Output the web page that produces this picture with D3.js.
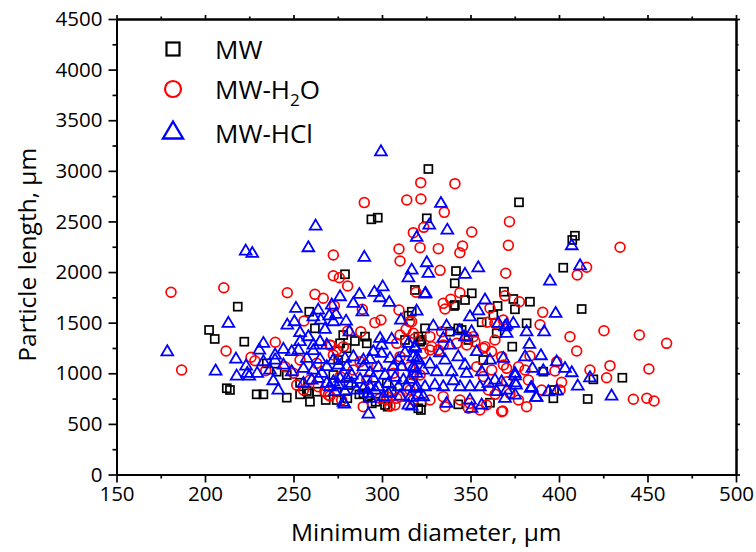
<!DOCTYPE html>
<html>
<head>
<meta charset="utf-8">
<script src="https://cdn.jsdelivr.net/npm/d3@7"></script>
<style>
  html, body { margin: 0; padding: 0; background: #fff; }
  svg { display: block; }
  text { font-family: "Open Sans", "Liberation Sans", sans-serif; fill: #000; }
</style>
</head>
<body>
<svg id="chart" width="756" height="552"></svg>
<script>
// Particle length vs minimum diameter for three treatments
const seriesNames = ["MW", "MW-H2O", "MW-HCl"];
const xTicks = [150, 200, 250, 300, 350, 400, 450, 500];
const yTicks = [0, 500, 1000, 1500, 2000, 2500, 3000, 3500, 4000, 4500];

const mwPoints = [
  [202.3,1428],[205.5,1339],[218.5,1658],[222.2,1312],[212.3,852],[214.1,835],[229.2,792],[233,792],
  [246.2,759],[253.7,792],[258.8,802],[259.3,719],[268.2,736],[279.1,1978],[294,2521],[297.6,2537],
  [318.6,1823],[314.9,1569],[316.8,1608],[326.2,3018],[325.3,2531],[258.9,1608],[341.8,2010],[341.1,1889],
  [350.7,1790],[368.9,1806],[377.4,2689],[409,2359],[407.5,2317],[402.4,2043],[346.9,1724],[340.7,1665],
  [374.2,1734],[375.1,1632],[383.6,1707],[412.8,1635],[365.3,1665],[362.9,1576],[381.7,1494],[356.3,1504],
  [324.3,1444],[343.1,1444],[373.6,1263],[435.8,956],[419.4,940],[416.2,746],[396.8,753],[391.1,1016],
  [397.2,835],[361,709],[343.1,693],[322,637],[357.2,1131],[257.5,825],[274.4,736],[280.4,753],
  [287.2,792],[291.9,769],[296.4,719],[303.2,670],[322.4,719],[278.1,1378],[284.7,1319],[291.4,1296],
  [322.4,1329],[262.1,1444],[320.5,1362],[341.2,1675],[320.5,654],[348.8,1329],[338.4,1411],[276.3,1296],
  [290.4,1362],[274.4,819],[294.2,703],[301.7,687],[272.5,983],[281,884],[289.5,802],[302.7,901],
  [305.5,818],[317.7,983],[246.2,983],[253.7,907],[263.1,818],[234.9,1098],[240.5,1016],[280,1247],
  [275.3,1131],[345,1428],[321.5,1312],[364.8,1395],[313,1329]
];

const h2oPoints = [
  [180.8,1800],[210.6,1845],[246.5,1796],[272.5,2168],[272.5,1964],[275.9,1944],[280.6,1862],[262.1,1780],
  [266.8,1741],[273.1,1665],[288.9,1632],[290,2686],[309.6,2228],[310.2,2109],[317.7,2389],[321.5,2241],
  [314,2712],[321.9,2883],[322,2722],[319.2,1800],[309.6,1625],[296,1500],[299.4,1526],[255.9,1516],
  [341.2,2873],[335.2,2590],[323.6,2442],[350.7,2396],[331.8,2231],[345.5,2257],[344,2191],[372,2498],
  [371.4,2264],[332.8,2017],[369.9,1988],[344,1796],[338.8,1731],[434.5,2245],[415.6,2047],[410.3,1971],
  [335.6,1635],[369.5,1766],[377.6,1707],[390.8,1602],[425.4,1420],[359.5,1504],[368.5,1526],[389.3,1480],
  [406.2,1361],[410,1220],[445.4,1378],[460.8,1296],[428.8,1075],[417.5,1032],[426.9,956],[450.8,1042],
  [442,743],[449.6,753],[453.7,726],[401.5,911],[381.7,670],[368.2,627],[398.7,1114],[397.7,1023],
  [361,1642],[186.8,1032],[211.9,1220],[226,1158],[228.2,1124],[234.3,1026],[239.7,1306],[289.4,670],
  [304.5,677],[307.3,687],[288,1411],[280.6,1418],[313.6,1434],[315.5,1510],[270.6,1280],[274.4,1230],
  [278.2,1263],[310.2,1378],[308.3,1296],[287.6,1115],[267.8,819],[270.6,776],[308.3,753],[302.7,769],
  [298.9,753],[277.2,736],[317.7,736],[334.6,1691],[363.8,1494],[316.7,1510],[317.7,1395],[327.1,1362],
  [333.7,1411],[334.6,1280],[331.8,1230],[347.8,1362],[352.5,1313],[358.2,1263],[361.9,1214],[363.8,1329],
  [367.6,1164],[370.4,1049],[370.4,917],[323.3,1197],[327.1,1230],[317.7,983],[321.5,983],[327.1,736],
  [334.6,769],[344.1,736],[348.8,654],[355.3,637],[359.1,687],[367.6,621],[360.1,835],[368.6,1082],
  [377.1,1065],[380.8,1032],[382.7,934],[383.6,1171],[390.2,835],[400.6,835],[377.1,736],[372.3,802],
  [318.7,1345],[328.1,1263],[357.3,1247],[351.6,1362],[347.9,1280],[342.2,1296],[357.3,967],[362,1032],
  [353.5,1065],[349.7,703],[335.6,670],[363.9,792],[251.8,884],[255.6,835],[264,868],[269.7,786],
  [272.5,1181],[271.2,1273],[302.7,736],[310.2,769],[315.8,835],[245.2,1065],[249.9,1000],[253.7,1131],
  [259.3,934],[263.1,1098],[276.3,967],[283.8,1032],[291.4,934],[297,1065],[306.4,1000],[310.2,1164],
  [315.8,1065]
];

const hclPoints = [
  [299.4,3189],[262.5,2455],[223,2208],[226.7,2185],[258.4,2241],[290,2146],[319.6,2343],[316.8,2020],
  [314.9,1944],[325.3,2093],[326.2,1988],[300.4,1855],[295.7,1800],[298.9,1747],[304.1,1701],[287.2,1780],
  [283.8,1691],[288.9,1608],[276.3,1757],[271.6,1675],[274,1583],[264,1625],[270.2,1569],[261.2,1559],
  [265.4,1526],[250.5,1510],[279.7,1516],[272.5,1510],[310.7,1526],[319.6,1615],[324.3,1783],[333.3,2679],
  [326.7,2465],[336.9,2415],[354.4,2043],[346.9,1978],[324.6,1790],[358.2,1725],[407.2,2261],[411.9,2063],
  [394.9,1912],[398.1,1592],[354.4,1618],[349.7,1559],[365.7,1494],[374.2,1494],[370.4,1477],[329,1467],
  [336.5,1467],[391.6,1411],[381.7,1411],[369.5,1460],[383.3,1286],[380.8,1164],[389.8,1174],[398.7,1114],
  [403.4,1049],[407.2,1006],[417.5,956],[410.6,874],[429.7,776],[385,1049],[391.1,1026],[384,852],
  [394,818],[398.7,828],[387,763],[178.7,1213],[206,1023],[213.2,1494],[217.5,1141],[217.9,973],
  [223.9,1000],[225,973],[229.5,1000],[223.2,1072],[251.4,1642],[246.5,1477],[253.7,1402],[258.4,1362],
  [267.8,1434],[261.2,1280],[265,1313],[268.8,1280],[233,1296],[230.7,1230],[239.6,1181],[244.3,1237],
  [249,1214],[253.7,1313],[252.8,1230],[257.5,1148],[261.2,1224],[265,1138],[268.8,1066],[233,1115],
  [239.6,1131],[244.3,1082],[249,1016],[255.6,1049],[261.2,1033],[266,1000],[238.6,927],[241.4,835],
  [236.7,1033],[255.6,901],[260.3,934],[264,950],[268.8,901],[281.6,1411],[298.9,1345],[305.5,1336],
  [299.8,1280],[314.9,1296],[318.7,1247],[317.7,1164],[313,1204],[309.3,1131],[304.5,1148],[299.8,1197],
  [295.1,1214],[293.2,1138],[289.5,1131],[283.8,1164],[279.1,1148],[272.5,1131],[275.4,1082],[280.1,1066],
  [289.5,1066],[298,1059],[306.4,1066],[311.1,1066],[317.7,1066],[320.6,1131],[272.5,917],[276.3,950],
  [280.1,950],[282.9,983],[287.6,940],[293.2,1006],[295.1,950],[301.7,983],[307.4,960],[312.1,934],
  [315.8,940],[319.6,1000],[270.6,868],[275.4,884],[282.9,901],[289.5,851],[293.2,868],[298,868],
  [303.6,901],[309.3,868],[314,868],[318.7,851],[315.8,763],[310.2,776],[303.6,802],[296.1,835],
  [292.3,802],[285.7,835],[279.1,819],[273.5,819],[278.2,713],[293.2,753],[300.8,769],[314.9,687],
  [292.3,598],[278.7,697],[370.4,1395],[343.7,1421],[334.6,1345],[338.4,1280],[346.9,1362],[350.6,1411],
  [318.6,1263],[319.6,1148],[327.1,1092],[332.7,1204],[335.6,1131],[343.1,1164],[346.9,1082],[353.5,1214],
  [361,1131],[368.5,1148],[318.6,1049],[323.3,1033],[330.9,1016],[339.3,1016],[347.8,1000],[356.3,1016],
  [363.8,934],[367.6,917],[319.6,868],[324.3,868],[329.9,884],[334.6,868],[340.3,927],[344.1,868],
  [349.7,868],[355.3,868],[360.1,901],[364.8,819],[370.4,835],[369.5,753],[320.5,786],[323.3,769],
  [336.5,703],[349.7,736],[356.3,687],[350.6,654],[316.8,677],[375.1,1000],[375.7,884],[375.2,976],
  [375.2,907],[384.6,861],[387.4,762],[375.2,785]
];

const svg = d3.select("#chart");
const plot = { left: 116.5, right: 736, top: 19, bottom: 474.5 };

const x = d3.scaleLinear().domain([150, 500]).range([plot.left, plot.right]);
const y = d3.scaleLinear().domain([0, 4500]).range([plot.bottom, plot.top]);

const minorX = d3.range(175, 500, 50);
const minorY = d3.range(250, 4500, 500);

// Frame: bottom & left with labels, top & right mirrored without labels
const axisStroke = 2;
function styleAxis(g) {
  g.select(".domain").attr("stroke", "#000").attr("stroke-width", axisStroke);
  g.selectAll(".tick line").attr("stroke", "#000").attr("stroke-width", 1.7);
  g.selectAll(".tick text").style("font-size", "20.5px").attr("fill", "#000");
}

svg.append("g").attr("transform", `translate(0,${plot.bottom})`)
  .call(d3.axisBottom(x).tickValues(xTicks).tickSize(8).tickSizeOuter(0).tickPadding(4).tickFormat(d3.format("d")))
  .call(styleAxis);
svg.append("g").attr("transform", `translate(0,${plot.bottom})`)
  .call(d3.axisBottom(x).tickValues(minorX).tickSize(4).tickSizeOuter(0).tickFormat(""))
  .call(styleAxis);

svg.append("g").attr("transform", `translate(${plot.left},0)`)
  .call(d3.axisLeft(y).tickValues(yTicks).tickSize(8).tickSizeOuter(0).tickPadding(6).tickFormat(d3.format("d")))
  .call(styleAxis);
svg.append("g").attr("transform", `translate(${plot.left},0)`)
  .call(d3.axisLeft(y).tickValues(minorY).tickSize(4).tickSizeOuter(0).tickFormat(""))
  .call(styleAxis);

svg.append("g").attr("transform", `translate(0,${plot.top})`)
  .call(d3.axisTop(x).tickValues(xTicks).tickSize(4).tickSizeOuter(0).tickFormat(""))
  .call(styleAxis);
svg.append("g").attr("transform", `translate(0,${plot.top})`)
  .call(d3.axisTop(x).tickValues(minorX).tickSize(2.5).tickSizeOuter(0).tickFormat(""))
  .call(styleAxis);

svg.append("g").attr("transform", `translate(${plot.right},0)`)
  .call(d3.axisRight(y).tickValues(yTicks).tickSize(4).tickSizeOuter(0).tickFormat(""))
  .call(styleAxis);
svg.append("g").attr("transform", `translate(${plot.right},0)`)
  .call(d3.axisRight(y).tickValues(minorY).tickSize(2.5).tickSizeOuter(0).tickFormat(""))
  .call(styleAxis);

// Axis titles
svg.append("text")
  .attr("x", (plot.left + plot.right) / 2).attr("y", 541)
  .attr("text-anchor", "middle").style("font-size", "24.5px")
  .text("Minimum diameter, µm");
svg.append("text")
  .attr("transform", `translate(36,${(plot.top + plot.bottom) / 2 + 8}) rotate(-90)`)
  .attr("text-anchor", "middle").style("font-size", "24.5px")
  .text("Particle length, µm");

// Marker shapes
const squareSide = 8;
const circleR = 4.9;
const triPath = "M0,-6.4L5.9,3.6L-5.9,3.6Z";

const pts = svg.append("g").attr("fill", "none");

pts.selectAll("rect.mw").data(mwPoints).join("rect")
  .attr("class", "mw")
  .attr("x", d => x(d[0]) - squareSide / 2).attr("y", d => y(d[1]) - squareSide / 2)
  .attr("width", squareSide).attr("height", squareSide)
  .attr("stroke", "#000").attr("stroke-width", 1.7);

pts.selectAll("circle.h2o").data(h2oPoints).join("circle")
  .attr("class", "h2o")
  .attr("cx", d => x(d[0])).attr("cy", d => y(d[1])).attr("r", circleR)
  .attr("stroke", "#ff0000").attr("stroke-width", 1.7);

pts.selectAll("path.hcl").data(hclPoints).join("path")
  .attr("class", "hcl")
  .attr("transform", d => `translate(${x(d[0])},${y(d[1])})`)
  .attr("d", triPath)
  .attr("stroke", "#0000ff").attr("stroke-width", 1.8);

// Legend
const legend = svg.append("g");
const lx = 173, ly = [49, 89, 131];
legend.append("rect").attr("x", lx - 6.5).attr("y", ly[0] - 6.5).attr("width", 13).attr("height", 13)
  .attr("fill", "none").attr("stroke", "#000").attr("stroke-width", 2.2);
legend.append("circle").attr("cx", lx).attr("cy", ly[1]).attr("r", 8)
  .attr("fill", "none").attr("stroke", "#ff0000").attr("stroke-width", 2.2);
legend.append("path").attr("transform", `translate(${lx},${ly[2]})`)
  .attr("d", "M0,-9.5L10,7.5L-10,7.5Z")
  .attr("fill", "none").attr("stroke", "#0000ff").attr("stroke-width", 2.4);

const labelX = 215;
const legendFont = "26px";
legend.append("text").attr("x", labelX).attr("y", 59).style("font-size", legendFont).text("MW");
const h2oLabel = legend.append("text").attr("x", labelX).attr("y", 99).style("font-size", legendFont);
h2oLabel.append("tspan").text("MW-H");
h2oLabel.append("tspan").attr("dy", 7).style("font-size", "17px").text("2");
h2oLabel.append("tspan").attr("dy", -7).text("O");
legend.append("text").attr("x", labelX).attr("y", 143).style("font-size", legendFont).text("MW-HCl");
</script>
</body>
</html>
